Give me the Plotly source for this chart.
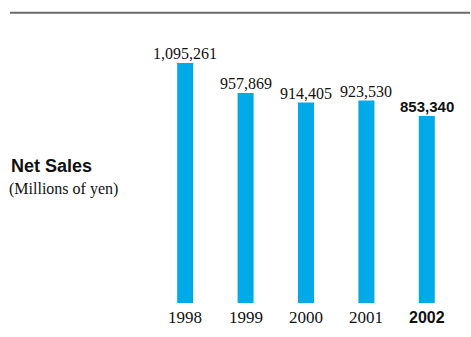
import plotly.graph_objects as go

years = ["1998", "1999", "2000", "2001", "2002"]
net_sales = [1095261, 957869, 914405, 923530, 853340]
value_labels = ["1,095,261", "957,869", "914,405", "923,530", "853,340"]
highlight = [False, False, False, False, True]

BAR_COLOR = "#00a9e8"
SERIF = "Liberation Serif, Times New Roman, serif"
SANS = "Liberation Sans, Arial, sans-serif"

fig = go.Figure()
fig.add_trace(go.Bar(
    x=years, y=net_sales, marker=dict(color=BAR_COLOR, line=dict(width=0)),
    width=0.265, hoverinfo="skip",
))

annotations = []
for i, (yr, v, lab, hl) in enumerate(zip(years, net_sales, value_labels, highlight)):
    annotations.append(dict(
        x=i, y=v, xref="x", yref="y", text=f"<b>{lab}</b>" if hl else lab,
        showarrow=False, yanchor="bottom", yshift=-1,
        font=dict(family=SANS if hl else SERIF, size=15 if hl else 16, color="#111"),
    ))
    annotations.append(dict(
        x=i, y=0, xref="x", yref="y", text=f"<b>{yr}</b>" if hl else yr,
        showarrow=False, yanchor="middle", yshift=-14,
        font=dict(family=SANS if hl else SERIF, size=16 if hl else 17, color="#111"),
    ))

annotations.append(dict(
    x=9, y=166, xref="paper", yref="paper", text="<b>Net Sales</b>",
    showarrow=False, xanchor="left", yanchor="middle",
    font=dict(family=SANS, size=18, color="#111"),
))
annotations.append(dict(
    x=7, y=189, xref="paper", yref="paper", text="(Millions of yen)",
    showarrow=False, xanchor="left", yanchor="middle",
    font=dict(family=SERIF, size=16, color="#111"),
))

# convert pixel positions for text annotations in paper coords
W, H = 471, 337
L, R, T, B = 155, 14, 40, 34
pw, ph = W - L - R, H - T - B
for a in annotations:
    if a["xref"] == "paper":
        px, py = a["x"], a["y"]
        a["x"] = (px - L) / pw
        a["y"] = 1 - (py - T) / ph

hidden = dict(showticklabels=False, showgrid=False, zeroline=False, showline=False, ticks="")
fig.update_layout(
    width=W, height=H,
    margin=dict(l=L, r=R, t=T, b=B, pad=0),
    paper_bgcolor="white", plot_bgcolor="white",
    showlegend=False,
    xaxis=dict(type="category", range=[-0.5, 4.5], **hidden),
    yaxis=dict(range=[0, 1200000], **hidden),
    annotations=annotations,
    shapes=[dict(
        type="line", xref="paper", yref="paper",
        x0=(10 - L) / pw, x1=(470 - L) / pw,
        y0=1 - (12.7 - T) / ph, y1=1 - (12.7 - T) / ph,
        line=dict(color="#6a6a6a", width=2),
    )],
)

fig.write_html("out.html", config={"displayModeBar": False},
               post_script="document.body.style.margin='0';document.body.style.overflow='hidden';")
